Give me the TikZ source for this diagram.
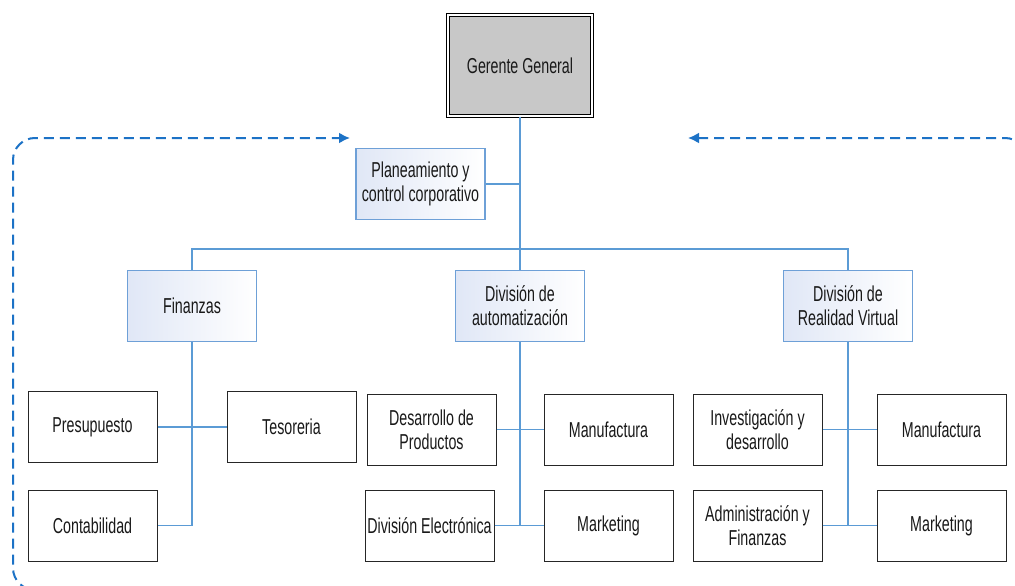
\documentclass[tikz,border=0pt]{standalone}
\usepackage{fontspec}
\setmainfont[FakeStretch=0.66]{Liberation Sans}
\usetikzlibrary{arrows.meta}

\definecolor{linkblue}{RGB}{91,155,213}
\definecolor{loopblue}{RGB}{28,114,198}
\definecolor{divborder}{RGB}{110,160,215}
\definecolor{divfill}{RGB}{224,231,246}
\definecolor{headgray}{RGB}{200,200,200}

\begin{document}
\begin{tikzpicture}[x=1pt,y=-1pt,
  every node/.style={font=\fontsize{21.6}{24}\selectfont, text=black!90, align=center, inner sep=0pt},
  unit/.style={draw=black!85, line width=1pt, fill=white, minimum width=129pt, minimum height=71pt},
  division/.style={draw=divborder, line width=1.2pt, shading=axis, shading angle=135,
                   left color=divfill, right color=white,
                   minimum width=129pt, minimum height=71pt},
  head/.style={draw=black, line width=1pt, double=white, double distance=2pt, fill=headgray,
               minimum width=144pt, minimum height=101pt},
  link/.style={draw=linkblue, line width=1.6pt},
  loopline/.style={draw=loopblue, line width=2pt, dash pattern=on 10pt off 6pt,
                   rounded corners=22pt, {Latex[length=11pt,width=11pt]}-{Latex[length=11pt,width=11pt]}}
]
\useasboundingbox (0,0) rectangle (1015,586);
\clip (0,0) rectangle (1015,586);

% top level
\node[head] (gg) at (520,65.5) {Gerente General};
\node[division] (plan) at (420.5,184) {Planeamiento y\\control corporativo};

% divisions
\node[division] (fin)  at (192,306) {Finanzas};
\node[division] (auto) at (520,306) {División de\\automatización};
\node[division] (rv)   at (848,306) {División de\\Realidad Virtual};

% finance units
\node[unit] (presu) at (92.5,427)   {Presupuesto};
\node[unit] (teso)  at (291.5,427)  {Tesoreria};
\node[unit] (conta) at (92.5,525.5) {Contabilidad};

% automation units
\node[unit] (desa)  at (431.5,429.5) {Desarrollo de\\Productos};
\node[unit] (manA)  at (608.5,429.5) {Manufactura};
\node[unit] (delec) at (429.5,525.5) {División Electrónica};
\node[unit] (mktA)  at (608.5,525.5) {Marketing};

% virtual reality units
\node[unit] (inv)   at (757.5,429.5) {Investigación y\\desarrollo};
\node[unit] (manB)  at (941.5,429.5) {Manufactura};
\node[unit] (adm)   at (757.5,525.5) {Administración y\\Finanzas};
\node[unit] (mktB)  at (941.5,525.5) {Marketing};

% connectors
\coordinate (bar) at (520,249);
\draw[link] (gg.south) -- (auto.north);
\draw[link] (plan.east) -- (plan.east -| gg.south);
\draw[link] (fin.north) |- (bar) -| (rv.north);

\draw[link] (fin.south) |- (conta.east);
\draw[link] (presu.east) -- (teso.west);

\draw[link] (auto.south) |- (delec.east);
\draw[link] (desa.east) -- (manA.west);
\draw[link] (delec.east) -- (mktA.west);

\draw[link] (rv.south) |- (adm.east);
\draw[link] (inv.east) -- (manB.west);
\draw[link] (adm.east) -- (mktB.west);

% dashed feedback loop around the organisation
\coordinate (loopR) at (688,138);
\coordinate (loopL) at (350,138);
\coordinate (cTR) at (1027,138);
\coordinate (cBR) at (1027,590);
\coordinate (cBL) at (13,590);
\coordinate (cTL) at (13,138);
\draw[loopline] (loopR) -- (cTR) -- (cBR) -- (cBL) -- (cTL) -- (loopL);
\end{tikzpicture}
\end{document}
